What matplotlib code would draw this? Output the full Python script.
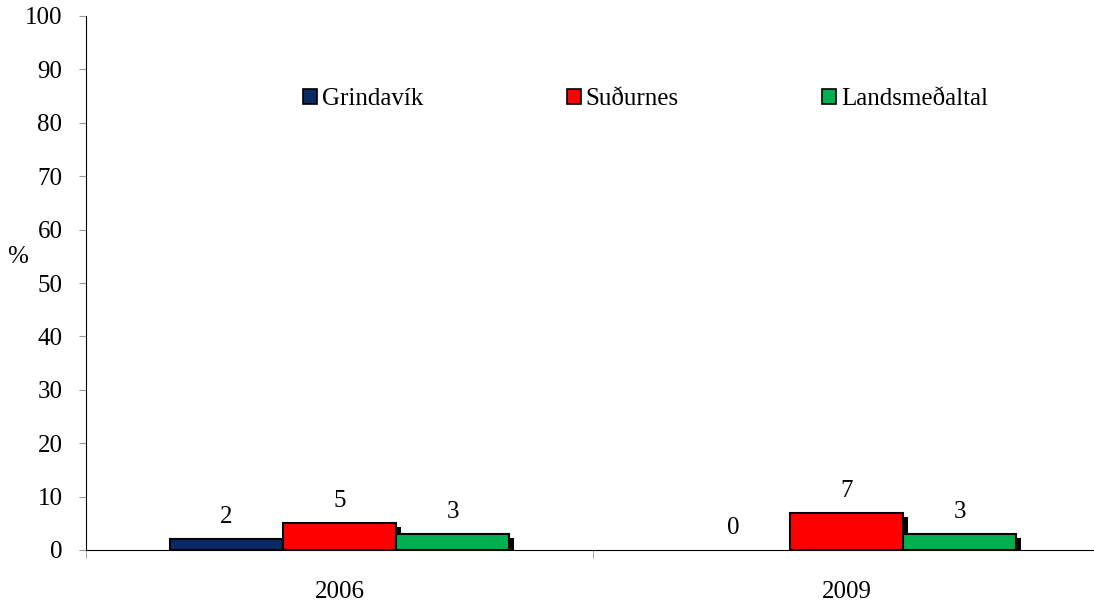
import numpy as np
import matplotlib
matplotlib.use("Agg")
import matplotlib.pyplot as plt
import matplotlib.patheffects as pe
from matplotlib.patches import Patch

plt.rcParams['font.family'] = ['Liberation Serif', 'DejaVu Serif']
plt.rcParams['font.size'] = 18

years = ['2006', '2009']
series = ['Grindavík', 'Suðurnes', 'Landsmeðaltal']
values = {
    'Grindavík': [2, 0],
    'Suðurnes': [5, 7],
    'Landsmeðaltal': [3, 3],
}
colors = ['#0a2a66', '#ff0000', '#00b050']

fig = plt.figure(figsize=(10.94, 6.04), dpi=100)
ax = fig.add_axes([86 / 1094, 54 / 604, 1014 / 1094, 534 / 604])

x = np.arange(len(years))
w = 0.223
shadow = [pe.SimplePatchShadow(offset=(3.5, -3), shadow_rgbFace='black', alpha=1.0), pe.Normal()]
for i, (name, c) in enumerate(zip(series, colors)):
    bars = ax.bar(x + (i - 1) * w, values[name], w, color=c, edgecolor='black',
                  linewidth=1.5, label=name)
    for b, v in zip(bars, values[name]):
        if v == 0:
            b.set_linewidth(0)
        else:
            b.set_path_effects(shadow)
    ax.bar_label(bars, padding=8, fontsize=18)

ax.set_xlim(-0.5, 1.5)
ax.set_ylim(0, 100)
ax.set_yticks(np.arange(0, 101, 10))
ax.set_xticks(x)
ax.set_xticklabels(years)
ax.set_xticks([-0.5, 0.5, 1.5], minor=True)
ax.tick_params(axis='x', which='major', length=0, pad=22)
ax.tick_params(axis='x', which='minor', length=6, color='#999999', direction='out')
ax.tick_params(axis='y', length=5, color='#999999', pad=12)

ax.spines['top'].set_visible(False)
ax.spines['right'].set_visible(False)
ax.spines['left'].set_color('black')
ax.spines['bottom'].set_color('black')

ax.set_ylabel('%', rotation=0, fontsize=18)
ax.yaxis.set_label_coords(-0.067, (550 - 268) / 534)

handles = [Patch(facecolor=c, edgecolor='black', linewidth=1.2) for c in colors]
fig.legend(handles, series, loc='center left', bbox_to_anchor=(303 / 1094, 1 - 99 / 604),
           ncol=3, frameon=False, handlelength=0.55, handleheight=0.55, handletextpad=0.2,
           columnspacing=5.75, borderpad=0, borderaxespad=0, fontsize=18)

fig.savefig('out.png', dpi=100)
